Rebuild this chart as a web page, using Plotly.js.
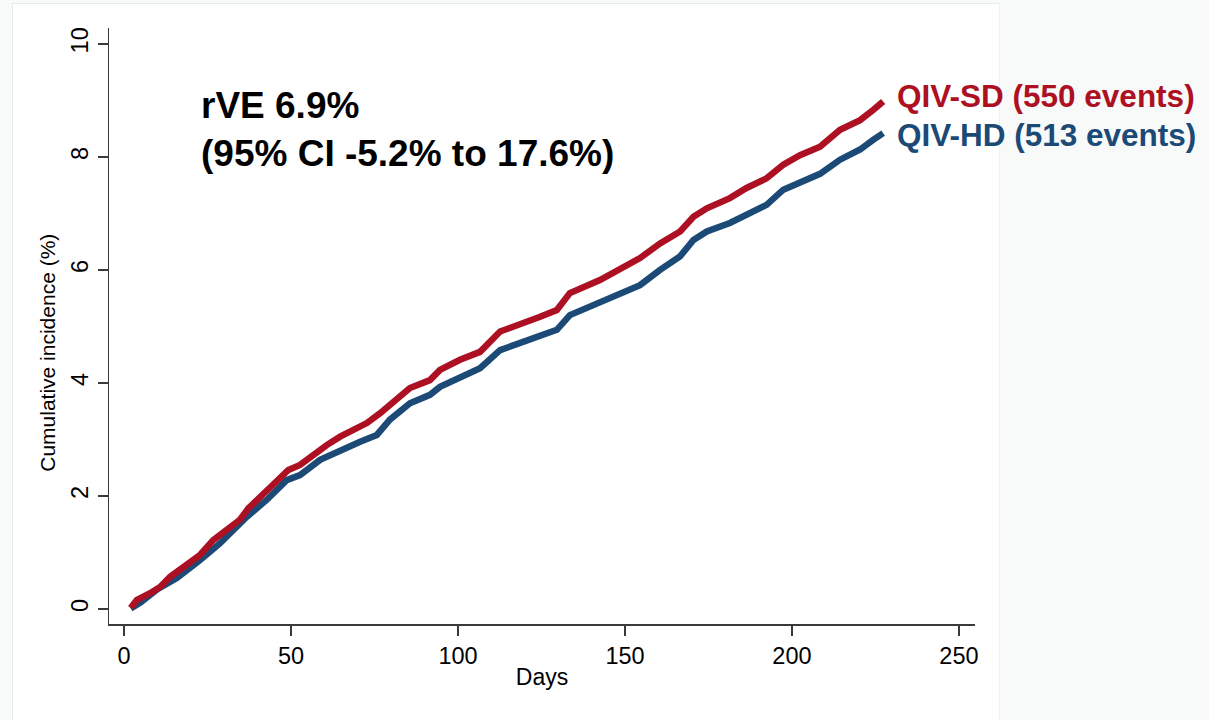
<!DOCTYPE html>
<html>
<head>
<meta charset="utf-8">
<script src="https://cdn.plot.ly/plotly-3.0.1.min.js"></script>
<style>
  html, body { margin: 0; padding: 0; background: #f8f9f9; width: 1209px; height: 720px; overflow: hidden; }
  #panel { position: absolute; left: 12px; top: 3px; width: 988px; height: 717px; background: #ffffff;
           border-left: 1px solid #e4eaea; border-top: 1px solid #e4eaea; border-right: 1px solid #eef2f2; box-sizing: border-box; }
  #chart { position: absolute; left: 0; top: 0; width: 1209px; height: 720px; }
</style>
</head>
<body>
<div id="panel"></div>
<div id="chart"></div>
<script>
// QIV-SD (red)
const sdDays = [2, 3.8, 7.8, 10.8, 13.8, 17.8, 22.8, 26.7, 30.7, 34.7, 37.2, 40.7, 45.7, 49.2, 52.7, 56.7, 60.7, 64.7, 68.7, 72.7, 76.6, 80.6, 85.6, 91.6, 94.6, 100.6, 106.6, 112.6, 118.6, 124.6, 129.6, 133.5, 142.5, 148.5, 154.5, 160.5, 166.5, 170.5, 174.5, 181.4, 186.4, 192.4, 197.4, 202.4, 208.4, 214.4, 220.4, 224.3, 227.3];
const sdIncidence = [0.02, 0.16, 0.28, 0.39, 0.57, 0.75, 0.96, 1.22, 1.40, 1.58, 1.78, 1.99, 2.25, 2.46, 2.55, 2.73, 2.90, 3.05, 3.16, 3.29, 3.46, 3.65, 3.91, 4.05, 4.23, 4.41, 4.55, 4.91, 5.03, 5.17, 5.29, 5.59, 5.82, 6.00, 6.21, 6.47, 6.68, 6.94, 7.09, 7.27, 7.45, 7.62, 7.86, 8.03, 8.18, 8.48, 8.65, 8.83, 8.98];
// QIV-HD (blue)
const hdDays = [2, 5, 10, 15.8, 22.8, 28.7, 36.7, 42.7, 48.7, 52.7, 58.7, 64.7, 70.7, 75.7, 79.6, 85.6, 91.6, 94.6, 100.6, 106.6, 112.6, 118.6, 124.6, 129.6, 133.5, 136.5, 142.5, 148.5, 154.5, 160.5, 166.5, 170.5, 174.5, 181.4, 186.4, 192.4, 197.4, 202.4, 208.4, 214.4, 220.4, 224.3, 227.3];
const hdIncidence = [0.01, 0.12, 0.35, 0.55, 0.87, 1.16, 1.63, 1.93, 2.28, 2.37, 2.64, 2.81, 2.96, 3.08, 3.35, 3.64, 3.79, 3.93, 4.11, 4.26, 4.58, 4.70, 4.85, 4.94, 5.20, 5.28, 5.42, 5.59, 5.73, 6.00, 6.24, 6.53, 6.68, 6.83, 6.97, 7.15, 7.42, 7.54, 7.70, 7.95, 8.13, 8.30, 8.42];

const seriesNames = ["QIV-SD (550 events)", "QIV-HD (513 events)"];
const xTicks = [0, 50, 100, 150, 200, 250];
const yTicks = [0, 2, 4, 6, 8, 10];
const rveLines = ["rVE 6.9%", "(95% CI -5.2% to 17.6%)"];

const RED = "#ad1023";
const BLUE = "#1c4a76";
const FONT = "Liberation Sans, Arial, Helvetica, sans-serif";

const traces = [
  { x: hdDays, y: hdIncidence, mode: "lines", name: seriesNames[1],
    line: { color: BLUE, width: 6.5 }, showlegend: false, hoverinfo: "x+y" },
  { x: sdDays, y: sdIncidence, mode: "lines", name: seriesNames[0],
    line: { color: RED, width: 6.5 }, showlegend: false, hoverinfo: "x+y" }
];

const layout = {
  width: 1209, height: 720,
  margin: { l: 109, r: 234, t: 28, b: 96 },
  paper_bgcolor: "rgba(0,0,0,0)",
  plot_bgcolor: "rgba(0,0,0,0)",
  font: { family: FONT, color: "#000" },
  xaxis: {
    range: [-4.5, 254.8],
    tickvals: xTicks, ticktext: xTicks.map(String),
    ticks: "outside", ticklen: 10, tickwidth: 1.5, tickcolor: "#3a3a3a",
    showline: true, linecolor: "#3a3a3a", linewidth: 1.5,
    showgrid: false, zeroline: false,
    tickfont: { size: 23.5, family: FONT, color: "#000" },
    title: { text: "Days", font: { size: 23, family: FONT, color: "#000" }, standoff: 1 }
  },
  yaxis: {
    range: [-0.265, 10.28],
    tickvals: yTicks, ticktext: yTicks.map(String),
    tickangle: -90,
    ticks: "outside", ticklen: 10, tickwidth: 1.5, tickcolor: "#3a3a3a",
    showline: true, linecolor: "#3a3a3a", linewidth: 1.5,
    showgrid: false, zeroline: false,
    tickfont: { size: 23.5, family: FONT, color: "#000" }
  },
  annotations: [
    { xref: "paper", yref: "paper", x: -0.0705, y: 0.455 , xanchor: "center", yanchor: "middle",
      text: "Cumulative incidence (%)", textangle: -90, showarrow: false,
      font: { size: 21, family: FONT, color: "#000" } },
    { xref: "x", yref: "y", x: 22.5, y: 8.48, xanchor: "left", yanchor: "middle", align: "left",
      text: "<b>" + rveLines[0] + "</b><br><b>" + rveLines[1] + "</b>", showarrow: false,
      font: { size: 37, family: FONT, color: "#000" } },
    { xref: "x", yref: "y", x: sdDays[sdDays.length - 1], y: sdIncidence[sdIncidence.length - 1] + 0.1,
      xanchor: "left", yanchor: "middle", xshift: 12, showarrow: false,
      text: "<b>" + seriesNames[0] + "</b>", font: { size: 31.5, family: FONT, color: RED } },
    { xref: "x", yref: "y", x: hdDays[hdDays.length - 1], y: hdIncidence[hdIncidence.length - 1] - 0.03,
      xanchor: "left", yanchor: "middle", xshift: 12, showarrow: false,
      text: "<b>" + seriesNames[1] + "</b>", font: { size: 31.5, family: FONT, color: BLUE } }
  ]
};

Plotly.newPlot("chart", traces, layout, { displayModeBar: false, staticPlot: true });
</script>
</body>
</html>
